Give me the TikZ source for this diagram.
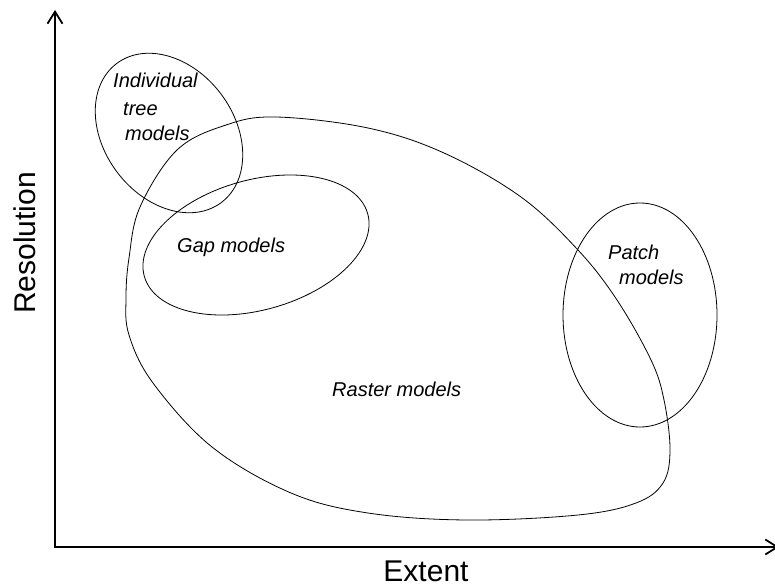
\documentclass[tikz,border=0pt]{standalone}
\usepackage{fontspec}
\setmainfont{Liberation Sans}
\usetikzlibrary{arrows.meta}
\begin{document}
\begin{tikzpicture}[x=1pt,y=-1pt,
  axis/.style={line width=1.8pt, {Straight Barb[length=12pt,width=15pt]}-{Straight Barb[length=12pt,width=15pt]}},
  region/.style={line width=0.8pt},
  lbl/.style={font=\fontsize{20}{24}\selectfont\itshape, inner sep=0pt, anchor=base west},
  axislbl/.style={font=\fontsize{30}{36}\selectfont, inner sep=0pt}]
\useasboundingbox (0,0) rectangle (775,586);

% axes
\coordinate (O) at (55,547);
\coordinate (ytip) at (55,10);
\coordinate (xtip) at (779,547);
\draw[axis] (ytip) -- (O) -- (xtip);
\node[axislbl, rotate=90] (res) at (25,243) {Resolution};
\node[axislbl] (ext) at (426,571) {Extent};

% raster models region
\draw[region] plot[smooth cycle, tension=0.6] coordinates {
  (276,117) (368,128) (444,153) (521,197) (578,250) (617,300) (651,360)
  (664,400) (670,450) (663,483) (636,503) (578,515) (467,520) (368,513)
  (291,493) (212,447) (153,383) (129,335) (126,298) (129,258) (140,207)
  (177,150) (226,125)};

% individual tree models
\draw[region] (169,133) ellipse[x radius=87pt, y radius=65pt, rotate=-53];
% gap models
\draw[region] (256,245) ellipse[x radius=116pt, y radius=65pt, rotate=15.7];
% patch models
\draw[region] (640,315) ellipse[x radius=77pt, y radius=112pt];

% labels
\node[lbl] (ind1) at (113,87) {Individual};
\node[lbl] (ind2) at (123,115) {tree};
\node[lbl] (ind3) at (125,140) {models};
\node[lbl] (gap) at (177,252) {Gap models};
\node[lbl] (pat1) at (608,259) {Patch};
\node[lbl] (pat2) at (619,284) {models};
\node[lbl] (ras) at (332,396) {Raster models};
\end{tikzpicture}
\end{document}
